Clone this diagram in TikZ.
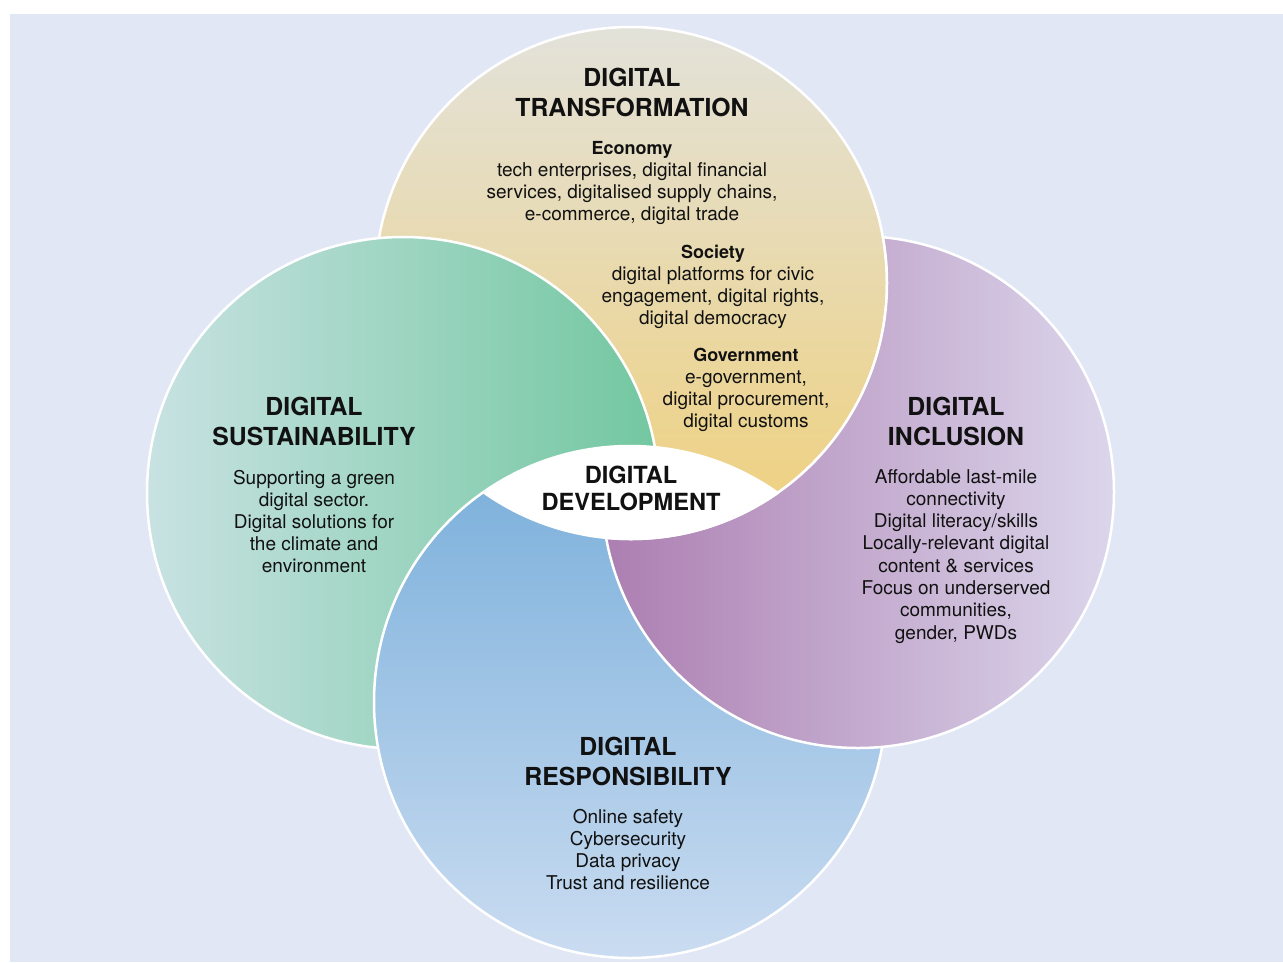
\documentclass[tikz,border=0pt]{standalone}
\usepackage{fontspec}
\setmainfont{TeX Gyre Heros}
\definecolor{bgc}{HTML}{E1E7F5}
\definecolor{ytop}{HTML}{E3E2DA}
\definecolor{ymid}{HTML}{EADDB9}
\definecolor{ybot}{HTML}{EFD07C}
\definecolor{gleft}{HTML}{C8E2E2}
\definecolor{gright}{HTML}{72C7A0}
\definecolor{pleft}{HTML}{AC7EB1}
\definecolor{pright}{HTML}{DBD6EB}
\definecolor{btop}{HTML}{78AEDA}
\definecolor{bbot}{HTML}{CADCF1}
\definecolor{ink}{HTML}{111111}
\begin{document}
\begin{tikzpicture}[x=1pt,y=-1pt,
  ring/.style={draw=white, line width=2.5pt},
  yfill/.style={shade, top color=ytop, middle color=ymid, bottom color=ybot},
  gfill/.style={shade, left color=gleft, right color=gright},
  pfill/.style={shade, left color=pleft, right color=pright},
  bfill/.style={shade, top color=btop, bottom color=bbot},
  ttl/.style={font=\fontsize{24.8}{29}\selectfont\bfseries, anchor=base, inner sep=0pt, text=ink},
  ctl/.style={font=\fontsize{23.6}{27}\selectfont\bfseries, anchor=base, inner sep=0pt, text=ink},
  hd/.style={font=\fontsize{18}{22}\selectfont\bfseries, anchor=base, inner sep=0pt, text=ink},
  body/.style={font=\fontsize{19}{22}\selectfont, anchor=base, inner sep=0pt, text=ink}]
\useasboundingbox (0,0) rectangle (1283,962);
\fill[bgc] (10,14) rectangle (1283,962);
\coordinate (T) at (631,283);
\coordinate (L) at (403,493);
\coordinate (R) at (858,492);
\coordinate (B) at (630,702);
% circles, layered: yellow, green, blue, then purple outside the top circle
\path[yfill, ring] (T) circle[radius=256pt];
\path[gfill, ring] (L) circle[radius=256pt];
\path[bfill, ring] (B) circle[radius=256pt];
\begin{scope}[even odd rule]
  \clip (0,0) rectangle (1283,962) (T) circle[radius=256pt];
  \path[pfill, ring] (R) circle[radius=256pt];
\end{scope}
% edge of the top circle over the purple one
\begin{scope}
  \clip (R) circle[radius=257.5pt];
  \draw[white, line width=2.5pt] (T) circle[radius=256pt];
\end{scope}
% white lens
\begin{scope}
  \clip (B) circle[radius=256pt];
  \path[fill=white, draw=white, line width=2.5pt] (T) circle[radius=256pt];
\end{scope}
% top: transformation
\node[ttl] (t1) at (632,86.7) {DIGITAL};
\node[ttl] (t2) at (632,116.5) {TRANSFORMATION};
\node[hd] (eco) at (632,154.3) {Economy};
\foreach \s [count=\i] in {{tech enterprises, digital financial},{services, digitalised supply chains,},{e-commerce, digital trade}}
  \node[body] (eco-\i) at (632,154.3+22*\i) {\s};
\node[hd] (soc) at (713,258) {Society};
\foreach \s [count=\i] in {{digital platforms for civic},{engagement, digital rights,},{digital democracy}}
  \node[body] (soc-\i) at (713,258+22.2*\i) {\s};
\node[hd] (gov) at (746,361) {Government};
\foreach \s [count=\i] in {{e-government,},{digital procurement,},{digital customs}}
  \node[body] (gov-\i) at (746,361+22.3*\i) {\s};
% left: sustainability
\node[ttl] (s1) at (314,415.7) {DIGITAL};
\node[ttl] (s2) at (314,445.5) {SUSTAINABILITY};
\foreach \s [count=\i] in {{Supporting a green},{digital sector.},{Digital solutions for},{the climate and},{environment}}
  \node[body] (sus-\i) at (314,484+22*\i-22) {\s};
% right: inclusion
\node[ttl] (i1) at (956,415.7) {DIGITAL};
\node[ttl] (i2) at (956,445.5) {INCLUSION};
\foreach \s [count=\i] in {{Affordable last-mile},{connectivity},{Digital literacy/skills},{Locally-relevant digital},{content \& services},{Focus on underserved},{communities,},{gender, PWDs}}
  \node[body] (inc-\i) at (956,483+22.3*\i-22.3) {\s};
% centre
\node[ctl] (c1) at (631,483.3) {DIGITAL};
\node[ctl] (c2) at (631,510.7) {DEVELOPMENT};
% bottom: responsibility
\node[ttl] (r1) at (628,755.7) {DIGITAL};
\node[ttl] (r2) at (628,785.5) {RESPONSIBILITY};
\foreach \s [count=\i] in {{Online safety},{Cybersecurity},{Data privacy},{Trust and resilience}}
  \node[body] (res-\i) at (628,823+22.3*\i-22.3) {\s};
\end{tikzpicture}
\end{document}
